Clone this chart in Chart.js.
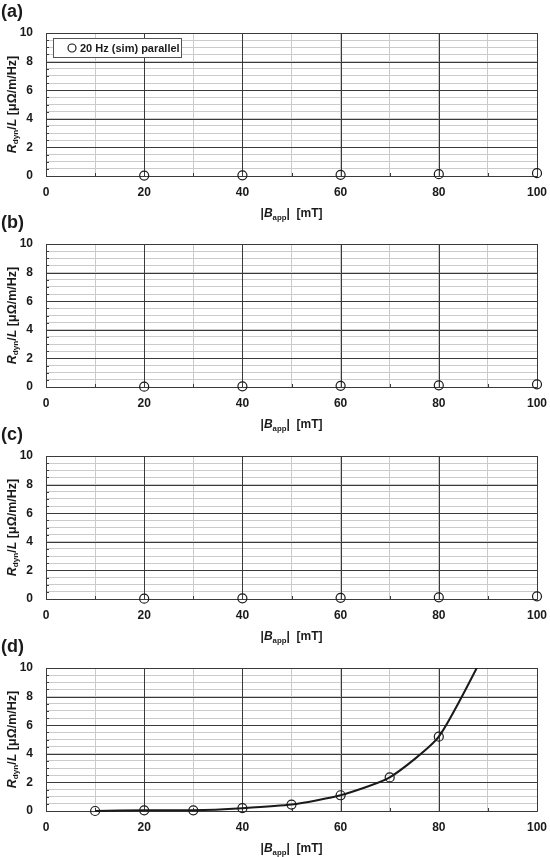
<!DOCTYPE html>
<html>
<head>
<meta charset="utf-8">
<script src="https://cdn.jsdelivr.net/npm/chart.js@4.4.1/dist/chart.umd.min.js"></script>
<style>
html, body { margin: 0; padding: 0; background: #fff; width: 550px; height: 857px; overflow: hidden; }
canvas { position: absolute; left: 0; }
</style>
</head>
<body>
<canvas id="panelA" width="550" height="224" style="top:0px"></canvas>
<canvas id="panelB" width="550" height="224" style="top:211px"></canvas>
<canvas id="panelC" width="550" height="224" style="top:423px"></canvas>
<canvas id="panelD" width="550" height="224" style="top:635px"></canvas>
<script>
var panelLabels = ['(a)', '(b)', '(c)', '(d)'];
var seriesName = '20 Hz (sim) parallel';

var fieldA = [20, 40, 60, 80, 100];
var valuesA = [0.03, 0.05, 0.08, 0.13, 0.2];
var fieldB = [20, 40, 60, 80, 100];
var valuesB = [0.02, 0.05, 0.08, 0.12, 0.19];
var fieldC = [20, 40, 60, 80, 100];
var valuesC = [0.02, 0.05, 0.08, 0.12, 0.19];
var fieldD = [10, 20, 30, 40, 50, 60, 70, 80, 90];
var valuesD = [0.0, 0.05, 0.05, 0.2, 0.45, 1.1, 2.35, 5.2, 11.5];

var xMajor = [0, 20, 40, 60, 80, 100];
var yMajor = [0, 2, 4, 6, 8, 10];

var FONT = '"Liberation Sans", Arial, sans-serif';
var darkGrid = '#3a3a3a';
var lightGrid = '#cbcbcb';

// text with italic letters and subscripts
function richText(ctx, parts, cx, cy, size) {
    var total = 0;
    parts.forEach(function (p) {
        ctx.font = (p.i ? 'italic ' : '') + 'bold ' + (p.s ? size * 0.65 : size) + 'px ' + FONT;
        p.w = ctx.measureText(p.t).width;
        total += p.w;
    });
    var x = cx - total / 2;
    var base = cy + size * 0.36;
    ctx.textAlign = 'left';
    ctx.textBaseline = 'alphabetic';
    parts.forEach(function (p) {
        ctx.font = (p.i ? 'italic ' : '') + 'bold ' + (p.s ? size * 0.65 : size) + 'px ' + FONT;
        ctx.fillText(p.t, x, p.s ? base + size * 0.22 : base);
        x += p.w;
    });
}

var decor = {
    id: 'decor',
    beforeDatasetsDraw: function (chart) {
        var ctx = chart.ctx, a = chart.chartArea;
        var xs = chart.scales.x, ys = chart.scales.y;
        ctx.save();
        ctx.strokeStyle = darkGrid;
        ctx.lineWidth = 1;
        // major grid lines on top of the light ones, small inner tick marks on the light ones
        ys.ticks.forEach(function (t) {
            var py = Math.round(ys.getPixelForValue(t.value)) + 0.5;
            ctx.beginPath();
            ctx.moveTo(a.left, py);
            ctx.lineTo(yMajor.indexOf(t.value) >= 0 ? a.right : a.left + 3, py);
            ctx.stroke();
        });
        xs.ticks.forEach(function (t) {
            var px = Math.round(xs.getPixelForValue(t.value)) + 0.5;
            ctx.beginPath();
            ctx.moveTo(px, a.bottom);
            ctx.lineTo(px, xMajor.indexOf(t.value) >= 0 ? a.top : a.bottom - 3);
            ctx.stroke();
        });
        ctx.restore();
    },
    afterDraw: function (chart, args, opts) {
        var ctx = chart.ctx, a = chart.chartArea;
        ctx.save();
        ctx.fillStyle = '#1a1a1a';
        ctx.font = 'bold 18px ' + FONT;
        ctx.textAlign = 'left';
        ctx.textBaseline = 'middle';
        ctx.fillText(opts.label, 1, 12);

        richText(ctx, [{t: '|'}, {t: 'B', i: true}, {t: 'app', s: true}, {t: '|  [mT]'}],
            (a.left + a.right) / 2, 213, 12);

        ctx.translate(11, (a.top + a.bottom) / 2);
        ctx.rotate(-Math.PI / 2);
        richText(ctx, [{t: 'R', i: true}, {t: 'dyn', s: true}, {t: '/'}, {t: 'L', i: true}, {t: ' [\u03bc\u03a9/m/Hz]'}],
            0, 0, 12.5);
        ctx.restore();

        if (opts.legend) {
            var ds = chart.data.datasets[0];
            var bx = a.left + 7, by = a.top + 5, bw = 128, bh = 19;
            ctx.save();
            ctx.fillStyle = '#fff';
            ctx.fillRect(bx, by, bw, bh);
            ctx.strokeStyle = '#555';
            ctx.lineWidth = 1;
            ctx.strokeRect(bx + 0.5, by + 0.5, bw, bh);
            ctx.strokeStyle = ds.borderColor;
            ctx.lineWidth = 1.2;
            ctx.beginPath();
            ctx.arc(bx + 19, by + bh / 2 + 0.5, 4, 0, Math.PI * 2);
            ctx.stroke();
            ctx.fillStyle = '#1a1a1a';
            ctx.font = 'bold 11px ' + FONT;
            ctx.textBaseline = 'middle';
            ctx.fillText(ds.label, bx + 27, by + bh / 2 + 1);
            ctx.restore();
        }
    }
};

function points(xs, ys) {
    return xs.map(function (x, i) { return {x: x, y: ys[i]}; });
}

function makePanel(id, label, xs, ys, withLine, withLegend) {
    return new Chart(document.getElementById(id), {
        type: 'scatter',
        data: {
            datasets: [{
                label: seriesName,
                data: points(xs, ys),
                showLine: withLine,
                borderColor: '#1a1a1a',
                backgroundColor: 'rgba(0,0,0,0)',
                borderWidth: withLine ? 2 : 1.2,
                tension: 0.2,
                pointRadius: 4.5,
                pointBorderWidth: 1.2,
                pointBorderColor: '#1a1a1a',
                pointBackgroundColor: 'rgba(0,0,0,0)',
                clip: {left: 8, top: 0, right: 8, bottom: 8}
            }]
        },
        options: {
            responsive: false,
            animation: false,
            layout: {padding: {left: 0, right: 13, top: 33, bottom: 0}},
            plugins: {
                legend: {display: false},
                tooltip: {enabled: false},
                decor: {label: label, legend: withLegend}
            },
            scales: {
                x: {
                    type: 'linear',
                    min: 0,
                    max: 100,
                    afterFit: function (s) { s.height = 48; s.paddingLeft = 0; s.paddingRight = 0; },
                    ticks: {
                        stepSize: 10,
                        autoSkip: false,
                        maxRotation: 0,
                        padding: 9,
                        color: '#1a1a1a',
                        font: {family: FONT, size: 12, weight: 'bold'},
                        callback: function (v) { return xMajor.indexOf(v) >= 0 ? String(v) : ''; }
                    },
                    grid: {drawTicks: false, color: lightGrid},
                    border: {color: '#555', width: 1}
                },
                y: {
                    min: 0,
                    max: 10,
                    afterFit: function (s) { s.width = 46; s.paddingTop = 0; s.paddingBottom = 0; },
                    ticks: {
                        stepSize: 0.5,
                        autoSkip: false,
                        padding: 13,
                        color: '#1a1a1a',
                        font: {family: FONT, size: 12, weight: 'bold'},
                        callback: function (v) { return yMajor.indexOf(v) >= 0 ? String(v) : ''; }
                    },
                    grid: {drawTicks: false, color: lightGrid},
                    border: {color: '#555', width: 1}
                }
            }
        },
        plugins: [decor]
    });
}

makePanel('panelA', panelLabels[0], fieldA, valuesA, false, true);
makePanel('panelB', panelLabels[1], fieldB, valuesB, false, false);
makePanel('panelC', panelLabels[2], fieldC, valuesC, false, false);
makePanel('panelD', panelLabels[3], fieldD, valuesD, true, false);
</script>
</body>
</html>
